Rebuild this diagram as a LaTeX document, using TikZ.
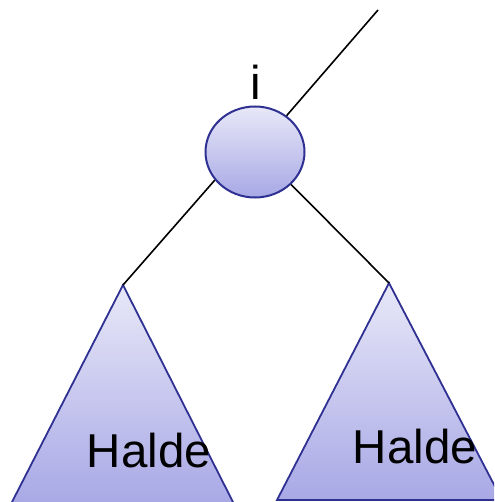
\documentclass[tikz,border=0pt]{standalone}
\usepackage{fontspec}
\setmainfont{Liberation Sans}
\usetikzlibrary{shapes.geometric, positioning}
\definecolor{heaptop}{RGB}{232,232,248}
\definecolor{heapbot}{RGB}{168,168,230}
\definecolor{heapline}{RGB}{46,49,146}

\begin{document}
\begin{tikzpicture}[x=1pt, y=-1pt]
    \tikzset{
        knot/.style={ellipse, draw=heapline, line width=2pt, top color=heaptop, bottom color=heapbot, minimum width=99pt, minimum height=91pt, inner sep=0pt},
        heap/.style={draw=heapline, line width=1.8pt, top color=heaptop, bottom color=heapbot},
        edge/.style={black, line width=1.6pt},
        label/.style={font=\fontsize{47.5}{47.5}\selectfont, text=black, anchor=base, inner sep=0pt}
    }
    \useasboundingbox (0,0) rectangle (494,502);
    \clip (0,0) rectangle (494,502);

    % Node i with its two subheaps
    \node[knot] (knoti) at (255,152) {};
    \node[label] (labeli) at (256,100) {i};
    \coordinate (parent) at (378,10);
    \coordinate (lapex) at (123,285);
    \coordinate (rapex) at (389,283);

    % Subheaps
    \shade[heap] (lapex) -- (234,504) -- (11,504) -- cycle;
    \shade[heap] (rapex) -- (502,500) -- (277,500) -- cycle;
    \node[label] (lheap) at (149,467) {Halde};
    \node[label] (rheap) at (415,463) {Halde};

    % Edges
    \draw[edge] (parent) -- (knoti.49);
    \draw[edge] (knoti.215) -- (lapex);
    \draw[edge] (knoti.318) -- (rapex);
\end{tikzpicture}
\end{document}
